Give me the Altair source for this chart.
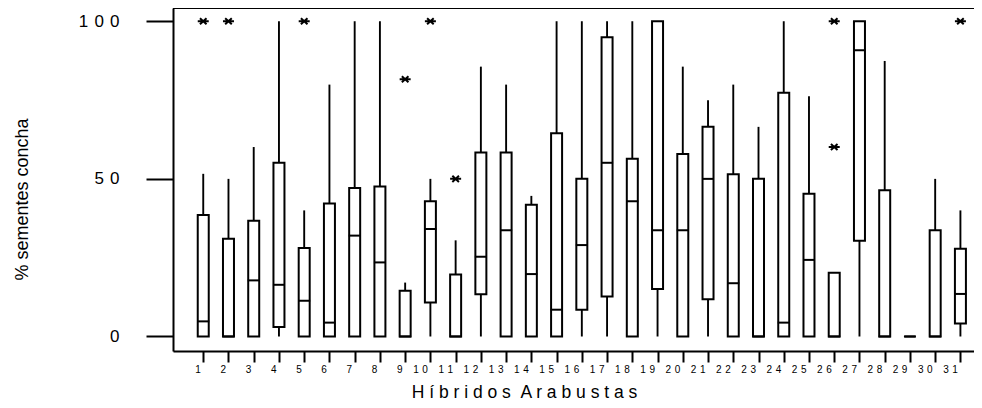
import altair as alt
import pandas as pd

# ---- data ----
hybrids = list(range(1, 32))
whisker_lo = [0] * 31
q1 = [0, 0, 0, 3.0, 0, 0, 0, 0, 0, 10.8, 0, 13.4, 0, 0, 0, 8.5, 12.7, 0, 15.1, 0,
      11.8, 0, 0, 0, 0, 0, 30.4, 0, 0, 0, 4.1]
median = [4.8, 0, 17.8, 16.4, 11.3, 4.4, 32.0, 23.5, 0, 34.1, 0, 25.3, 33.7, 19.8, 8.5, 29.0,
          55.1, 42.9, 33.7, 33.7, 50.0, 16.9, 0, 4.4, 24.3, 0, 90.8, 0, 0, 0, 13.5]
q3 = [38.5, 31.0, 36.7, 55.1, 28.1, 42.2, 47.1, 47.6, 14.5, 42.9, 19.7, 58.4, 58.4, 41.8, 64.5, 50.0,
      94.9, 56.4, 100, 57.9, 66.5, 51.5, 50.0, 77.3, 45.3, 20.2, 100, 46.4, 0, 33.7, 27.8]
whisker_hi = [51.6, 50.0, 60.1, 100, 40.0, 79.9, 100, 100, 17.1, 50.0, 30.5, 85.6, 79.9, 44.6, 100, 100,
              100, 100, 100, 85.6, 74.9, 79.9, 66.5, 100, 76.2, 20.2, 100, 87.4, 0, 50.0, 40.0]
outlier_hybrid = [1, 2, 5, 9, 10, 11, 26, 26, 31]
outlier_value = [100, 100, 100, 81.6, 100, 50, 100, 60.1, 100]

x_tick_values = list(range(1, 32))
y_tick_values = [0, 50, 100]
x_title = "H í b r i d o s \u00a0A r a b u s t a s"
y_title = "% sementes concha"

df = pd.DataFrame({"h": hybrids, "lo": whisker_lo, "q1": q1, "med": median,
                   "q3": q3, "hi": whisker_hi})
df_out = pd.DataFrame({"h": outlier_hybrid, "v": outlier_value})

YMIN, YMAX = -4.6, 104.2
XMAX = 31.34
FONT = "Liberation Sans"

xscale = alt.Scale(domain=[0, XMAX], nice=False, zero=False)
yscale = alt.Scale(domain=[YMIN, YMAX], nice=False, zero=False)

xaxis = alt.Axis(values=x_tick_values, tickSize=11, tickWidth=2, tickColor="black",
                 domainWidth=2, domainColor="black", grid=False,
                 labelFont=FONT, labelFontSize=10, labelColor="black",
                 labelAlign="right", labelOffset=-3, labelPadding=2,
                 labelOverlap=False, labelFlush=False,
                 labelExpr="join(split(datum.label, ''), ' \u200a')",
                 title=x_title, titleFont=FONT, titleFontSize=17.5,
                 titleFontWeight="normal", titleColor="black",
                 titleX=351, titleY=46, titleBaseline="alphabetic", titleAlign="center")
yaxis = alt.Axis(values=y_tick_values, tickSize=27, tickWidth=2, tickColor="black",
                 domainWidth=2, domainColor="black", grid=False,
                 labelFont=FONT, labelFontSize=17, labelColor="black", labelPadding=27,
                 labelExpr="join(split(datum.label, ''), ' \u200a')",
                 title=y_title, titleFont=FONT, titleFontSize=18,
                 titleFontWeight="normal", titleColor="black",
                 titleX=-146, titleY=191, titleAngle=270,
                 titleBaseline="alphabetic", titleAlign="center")


def X(field="h"):
    return alt.X(f"{field}:Q", scale=xscale, axis=xaxis)


def Y(field):
    return alt.Y(f"{field}:Q", scale=yscale, axis=yaxis)


base = alt.Chart(df)

lower = base.mark_rule(color="black", strokeWidth=1.9).encode(
    x=X(), y=Y("lo"), y2="q1:Q")
upper = base.mark_rule(color="black", strokeWidth=1.9).encode(
    x=X(), y=Y("q3"), y2="hi:Q")
box = base.mark_bar(size=11, fill="white", stroke="black", strokeWidth=2).encode(
    x=X(), y=Y("q1"), y2="q3:Q")
med = base.mark_tick(orient="horizontal", size=12, thickness=2, color="black", opacity=1).encode(
    x=X(), y=Y("med"))

star = "M-1,0L1,0M-0.6,-0.55L0.6,0.55M-0.6,0.55L0.6,-0.55"
outl = alt.Chart(df_out).mark_point(shape=star, size=121, filled=False, stroke="black",
                                    strokeWidth=2, opacity=1).encode(
    x=X(), y=Y("v"))

topline = alt.Chart(df).mark_rule(color="black", strokeWidth=2).encode(
    y=alt.datum(YMAX))

chart = alt.layer(lower, upper, box, med, outl, topline).properties(
    width=801, height=343,
    autosize=alt.AutoSizeParams(type="none"),
    padding={"left": 165, "top": 0, "right": 0, "bottom": 49},
).configure_view(strokeWidth=0).configure(background="white")

chart.save("out.html", embed_options={"renderer": "svg", "actions": False})
